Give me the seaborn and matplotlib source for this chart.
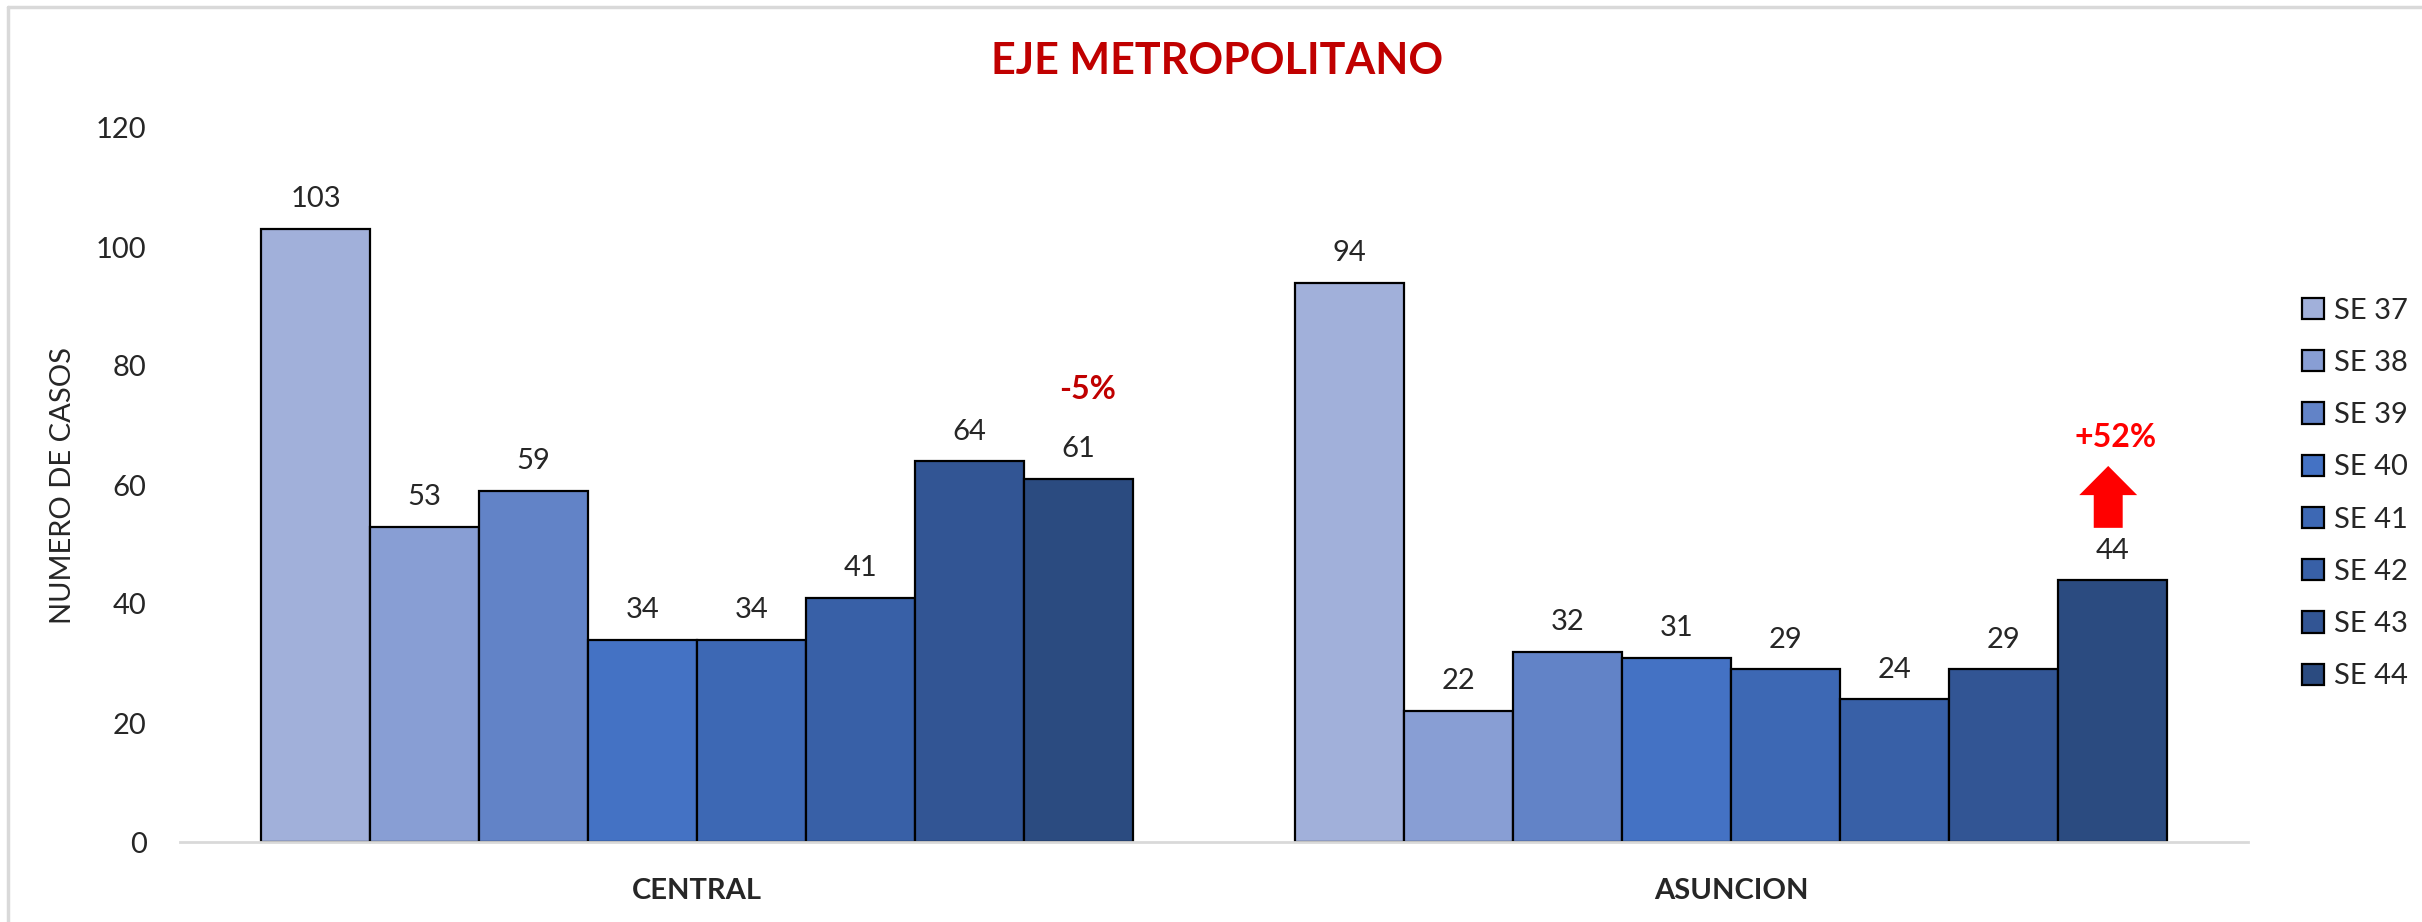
import pandas as pd
import seaborn as sns
import matplotlib.pyplot as plt
from matplotlib.patches import FancyArrow
from matplotlib.lines import Line2D

regiones = ["CENTRAL", "ASUNCION"]
semanas = ["SE 37", "SE 38", "SE 39", "SE 40", "SE 41", "SE 42", "SE 43", "SE 44"]
central = [103, 53, 59, 34, 34, 41, 64, 61]
asuncion = [94, 22, 32, 31, 29, 24, 29, 44]
colores = ["#A1B0DA", "#889ED4", "#6283C7", "#4472C4", "#3D68B4", "#3860A7", "#325594", "#2B4B80"]
variacion = ["-5%", "+52%"]

sns.set_style("white")
plt.rcParams['font.family'] = ['Lato', 'DejaVu Sans']

data = pd.DataFrame({
    "region": [r for r in regiones for s in semanas],
    "semana": semanas * 2,
    "casos": central + asuncion,
})

fig = plt.figure(figsize=(24.22, 9.22), dpi=100)
ax = fig.add_axes([180 / 2422, 1 - 842 / 922, 2068 / 2422, 714 / 922])

sns.barplot(data=data, x="region", y="casos", hue="semana", palette=colores,
            saturation=1, width=0.843, gap=0, edgecolor="black", linewidth=1.6, ax=ax)

ax.set_ylim(0, 120)
ax.set_xlim(-0.5, 1.5)
ax.set_yticks(range(0, 121, 20))
ax.tick_params(axis="y", labelsize=21, pad=24, length=0)
ax.tick_params(axis="x", labelsize=21, pad=26, length=0)
for t in ax.get_xticklabels():
    t.set_fontweight("bold")
ax.set_xlabel("")
ax.set_ylabel("NUMERO DE CASOS", fontsize=21, va="center")
ax.yaxis.set_label_coords(-0.0566, 0.5)

for s in ["top", "right", "left"]:
    ax.spines[s].set_visible(False)
ax.spines["bottom"].set_color("#D9D9D9")
ax.spines["bottom"].set_linewidth(2)

for c in ax.containers:
    ax.bar_label(c, fontsize=21, padding=12)

# anotaciones sobre la ultima semana
ult = ax.containers[-1]
b0 = ult[0]
x0 = b0.get_x() + b0.get_width() / 2
ax.text(x0 + 0.009, b0.get_height() + 15, variacion[0], color="#C00000",
        fontsize=23, fontweight="bold", ha="center", va="center")

b1 = ult[1]
x1 = b1.get_x() + b1.get_width() / 2
ax.text(x1 + 0.003, b1.get_height() + 24, variacion[1], color="#FF0000",
        fontsize=23, fontweight="bold", ha="center", va="center")
ax.add_patch(FancyArrow(x1 - 0.004, b1.get_height() + 8.8, 0, 10.4, width=0.028,
                        head_width=0.056, head_length=4.9,
                        length_includes_head=True, color="#FF0000", lw=0))

leg = ax.legend(loc="upper left", frameon=False, fontsize=21, handlelength=0.75,
                handleheight=0.75, handletextpad=0.35, labelspacing=0.9, borderaxespad=0)
leg.set_bbox_to_anchor(((2290 - 180) / 2068, 1 - (286 - 128) / 714), transform=ax.transAxes)
for h in leg.legend_handles:
    h.set_edgecolor("black")
    h.set_linewidth(1.6)

fig.text(1217 / 2422, 1 - 61 / 922, "EJE METROPOLITANO", color="#C00000",
         fontsize=31, fontweight="bold", ha="center", va="center")

# borde del area del grafico
fig.add_artist(Line2D([8 / 2422, 8 / 2422], [0, 1 - 7 / 922], color="#D9D9D9", lw=2.5,
                      transform=fig.transFigure))
fig.add_artist(Line2D([8 / 2422, 1], [1 - 7 / 922, 1 - 7 / 922], color="#D9D9D9", lw=2.5,
                      transform=fig.transFigure))

fig.savefig("out.png", dpi=100)
